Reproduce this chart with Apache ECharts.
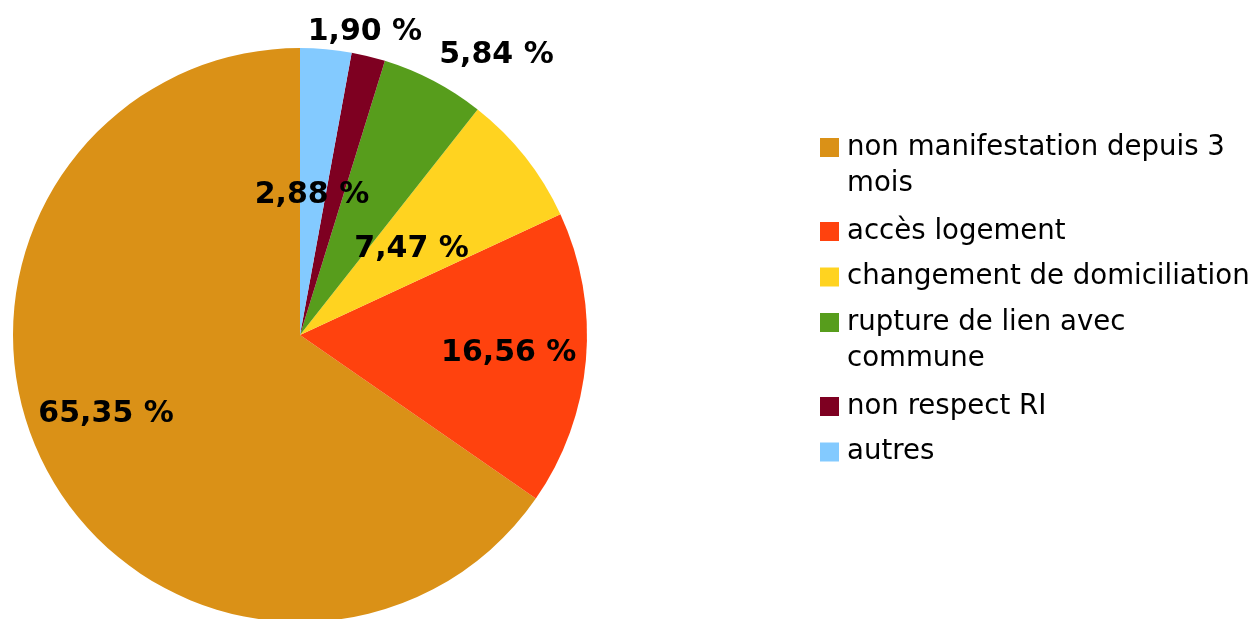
<!DOCTYPE html>
<html>
<head>
<meta charset="utf-8">
<script src="https://cdn.jsdelivr.net/npm/echarts@6/dist/echarts.min.js"></script>
<style>
  html, body { margin: 0; padding: 0; background: #fff; }
  #chart { width: 1257px; height: 619px; }
</style>
</head>
<body>
<div id="chart"></div>
<script>
// motifs de radiation (parts en %)
var categories = ['non manifestation depuis 3 mois', 'accès logement', 'changement de domiciliation',
                  'rupture de lien avec commune', 'non respect RI', 'autres'];
var legendText = ['non manifestation depuis 3\nmois', 'accès logement', 'changement de domiciliation',
                  'rupture de lien avec\ncommune', 'non respect RI', 'autres'];
var values = [65.35, 16.56, 7.47, 5.84, 1.90, 2.88];
var colors = ['#da9117', '#ff420e', '#ffd320', '#579d1c', '#7e0021', '#83caff'];

// mise en page
var CX = 300, CY = 335, RADIUS = 287;
var FONT = 'DejaVu Sans';
// position des etiquettes : [rayon relatif, decalage d'angle en degres]
var labelPos = [[0.73, -5.4], [0.73, 0], [0.49, -0.8], [1.19, -7.4], [1.08, 1.7], [0.49, 0.3]];
// centre vertical de chaque entree de legende
var legendY = [147.5, 231.5, 277, 322.5, 406.5, 452];

var total = 0;
values.forEach(function (v) { total += v; });

function fmt(v) {
    return v.toFixed(2).replace('.', ',') + ' %';
}

var pieData = categories.map(function (c, i) {
    return { name: c, value: values[i], itemStyle: { color: colors[i] } };
});

// une legende par entree ; ligne vide en tete pour aligner le carre sur la 1re ligne
var legends = categories.map(function (c, i) {
    var twoLines = legendText[i].indexOf('\n') >= 0;
    return {
        orient: 'vertical',
        left: 820,
        top: twoLines ? legendY[i] - 54 : legendY[i] - 18,
        padding: 0,
        icon: 'rect',
        itemWidth: 19,
        itemHeight: 19,
        selectedMode: false,
        data: [c],
        formatter: function () { return twoLines ? ' \n' + legendText[i] : legendText[i]; },
        textStyle: {
            fontFamily: FONT,
            fontSize: 27.6,
            color: '#000',
            lineHeight: 36,
            padding: [0, 0, 0, 3]
        }
    };
});

var chart = echarts.init(document.getElementById('chart'));
chart.setOption({
    animation: false,
    backgroundColor: '#fff',
    legend: legends,
    series: [{
        type: 'pie',
        center: [CX, CY],
        radius: [0, RADIUS],
        startAngle: 90,
        clockwise: false,
        avoidLabelOverlap: false,
        itemStyle: { borderWidth: 0 },
        emphasis: { disabled: true },
        label: {
            show: true,
            position: 'inside',
            formatter: function (p) { return fmt(p.value); },
            fontFamily: FONT,
            fontWeight: 'bold',
            fontSize: 30,
            color: '#000'
        },
        labelLine: { show: false },
        labelLayout: function (p) {
            var i = p.dataIndex;
            var before = 0;
            for (var k = 0; k < i; k++) before += values[k];
            var ang = (90 + (before + values[i] / 2) / total * 360 + labelPos[i][1]) * Math.PI / 180;
            var r = RADIUS * labelPos[i][0];
            return {
                x: CX + r * Math.cos(ang),
                y: CY - r * Math.sin(ang),
                align: 'center',
                verticalAlign: 'middle'
            };
        },
        data: pieData
    }]
});
</script>
</body>
</html>
